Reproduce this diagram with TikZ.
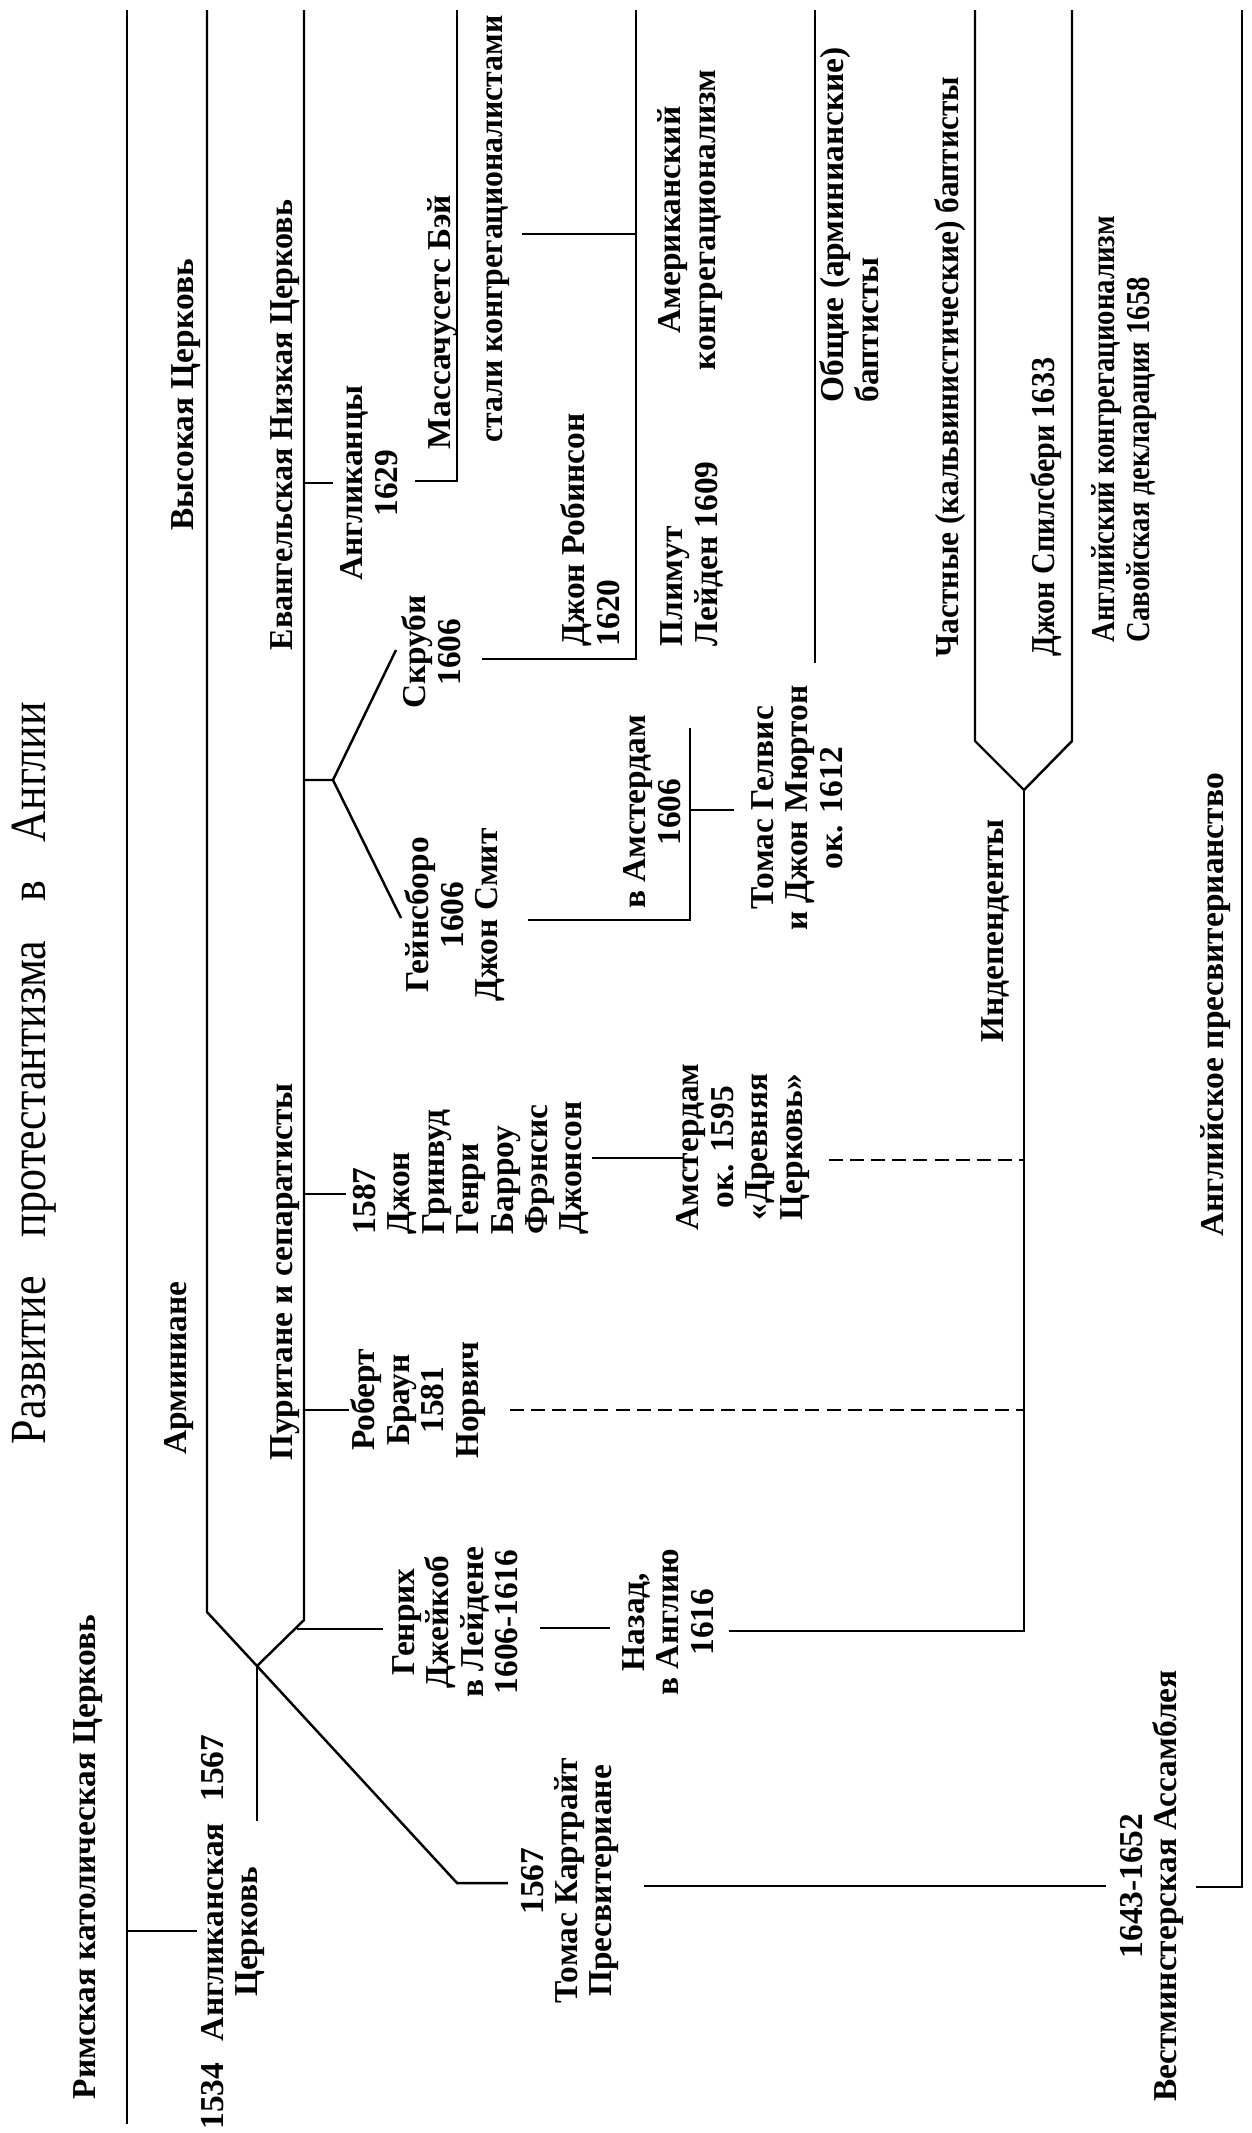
\documentclass[tikz,border=0pt]{standalone}
\usepackage{fontspec}
\setmainfont{Liberation Serif}

\begin{document}
\begin{tikzpicture}[x=0.01cm, y=-0.01cm,
  lbl/.style={rotate=90, align=center, inner sep=0pt, font=\bfseries\fontsize{9.5}{9.8}\selectfont},
  lbll/.style={lbl, align=left, anchor=west},
  narrow/.style={font=\bfseries\fontsize{9.5}{9.8}\selectfont\addfontfeature{FakeStretch=#1}},
  ttl/.style={rotate=90, inner sep=0pt, font=\fontsize{14.4}{16}\selectfont\addfontfeature{FakeStretch=0.87}},
  ln/.style={line width=0.7pt},
  dln/.style={ln, dash pattern=on 4pt off 2pt}]
\useasboundingbox (0,0) rectangle (1252,2133);

% Title
\node[ttl] (title) at (34,1073) {Развитие\hspace{0.55em} протестантизма\hspace{0.55em} в\hspace{0.55em} Англии};

% Main lines, left to right
\node[lbl] (rc) at (88,1857) {Римская католическая Церковь};
\node[lbl] (angl) at (233,1932) {1534\hspace{0.4em} Англиканская\hspace{0.4em} 1567\\Церковь};
\node[lbl] (high) at (186,395) {Высокая Церковь};
\node[lbl] (armin) at (179,1368) {Арминиане};
\node[lbl, narrow=0.96] (low) at (285,425) {Евангельская Низкая Церковь};
\node[lbl] (purit) at (285,1272) {Пуритане и сепаратисты};

\coordinate (rcTop) at (127,10);
\coordinate (rcEnd) at (127,2124);
\coordinate (rcTick) at (127,1931);
\coordinate (anglTick) at (197,1931);
\coordinate (anglEnd) at (257,1821);
\coordinate (J) at (257,1666);
\coordinate (bTop) at (207,10);
\coordinate (bBend) at (207,1612);
\coordinate (cTop) at (304,10);
\coordinate (cBend) at (304,1620);
\coordinate (presL) at (457,1883);

\draw[ln] (rcTop) -- (rcEnd);
\draw[ln] (rcTick) -- (anglTick);
\draw[ln] (anglEnd) -- (J);
\draw[ln] (bTop) -- (bBend) -- (J) -- (presL) -- (508,1883);
\draw[ln] (cTop) -- (cBend) -- (J);

% Separatists
\node[lbl] (jacob) at (455,1622) {Генрих\\Джейкоб\\в Лейдене\\1606-1616};
\node[lbl] (back) at (668,1622) {Назад,\\в Англию\\1616};
\node[lbl] (browne) at (418,1400) {Роберт\\Браун\\1581\\Норвич};
\node[lbll] (barrow) at (471,1235) {1587\\Джон\\Гринвуд\\Генри\\Барроу\\Фрэнсис\\Джонсон};
\node[lbl] (ancient) at (743,1147) {Амстердам\\ок. 1595\\«Древняя\\Церковь»};

\draw[ln] (297,1629) -- (383,1629);
\draw[ln] (540,1628) -- (610,1628);
\draw[ln] (304,1410) -- (349,1410);
\draw[dln] (510,1410) -- (1024,1410);
\draw[ln] (304,1194) -- (346,1194);
\draw[ln] (592,1158) -- (683,1158);
\draw[dln] (829,1160) -- (1024,1160);

% Gainsborough and Scrooby
\coordinate (fork) at (333,780);
\node[lbl] (gains) at (455,915) {Гейнсборо\\1606\\Джон Смит};
\node[lbl] (scroo) at (431,652) {Скруби\\1606};
\node[lbl] (amst) at (652,812) {в Амстердам\\1606};
\node[lbl] (helw) at (797,808) {Томас Гелвис\\и Джон Мюртон\\ок. 1612};

\draw[ln] (304,780) -- (fork) -- (396,650);
\draw[ln] (fork) -- (401,918);
\draw[ln] (528,920) -- (690,920) -- (690,728);
\draw[ln] (690,810) -- (734,810);

% America
\node[lbl] (anglic) at (369,483) {Англиканцы\\1629};
\node[lbl] (mass) at (443,322) {Массачусетс Бэй};
\node[lbl, narrow=0.95] (became) at (498,229) {стали конгрегационалистами};
\node[lbll] (robin) at (590,647) {Джон Робинсон\\1620};
\node[lbll] (plym) at (692,647) {Плимут\\Лейден 1609};
\node[lbl] (amcong) at (690,220) {Американский\\конгрегационализм};

\draw[ln] (304,483) -- (333,483);
\draw[ln] (415,481) -- (457,481) -- (457,10);
\draw[ln] (482,659) -- (636,659) -- (636,10);
\draw[ln] (522,234) -- (636,234);

% Baptists and Independents
\coordinate (K) at (1024,790);
\node[lbll] (general) at (849,403) {Общие (арминианские)\\баптисты};
\node[lbl, narrow=0.94] (partic) at (950,367) {Частные (кальвинистические) баптисты};
\node[lbl, narrow=0.9] (spils) at (1046,507) {Джон Спилсбери 1633};
\node[lbll, narrow=0.86] (engcong) at (1124,643) {Английский конгрегационализм\\Савойская декларация 1658};
\node[lbl] (indep) at (995,931) {Индепенденты};

\draw[ln] (815,10) -- (815,663);
\draw[ln] (729,1631) -- (1024,1631) -- (K);
\draw[ln] (K) -- (975,741) -- (975,10);
\draw[ln] (K) -- (1072,741) -- (1072,10);

% Presbyterians
\node[lbl] (cartw) at (570,1881) {1567\\Томас Картрайт\\Пресвитериане};
\node[lbl] (westm) at (1152,1886) {1643-1652\\Вестминстерская Ассамблея};
\node[lbl] (engpres) at (1216,1005) {Английское пресвитерианство};

\draw[ln] (644,1886) -- (1106,1886);
\draw[ln] (1196,1887) -- (1242,1887) -- (1242,10);
\end{tikzpicture}
\end{document}
